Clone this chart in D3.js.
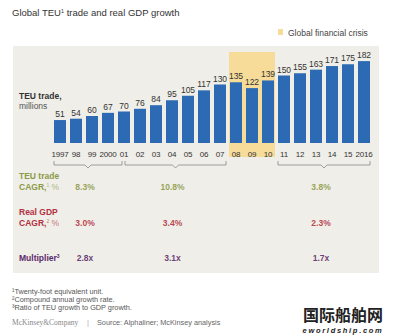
<!DOCTYPE html>
<html>
<head>
<meta charset="utf-8">
<script src="https://cdn.jsdelivr.net/npm/d3@7"></script>
<style>
  body { margin: 0; background: #fff; }
  text { font-family: "Liberation Sans", Arial, sans-serif; }
</style>
</head>
<body>
<div id="chart"></div>
<script>
// data
var years = ["1997", "98", "99", "2000", "01", "02", "03", "04", "05", "06", "07",
  "08", "09", "10", "11", "12", "13", "14", "15", "2016"];
var teu = [51, 54, 60, 67, 70, 76, 84, 95, 105, 117, 130, 135, 122, 139, 150, 155, 163, 171, 175, 182];
var crisisYears = ["08", "10"];
var periods = [["1997", "01"], ["01", "07"], ["11", "2016"]];
var teuCagr = ["8.3%", "10.8%", "3.8%"];
var gdpCagr = ["3.0%", "3.4%", "2.3%"];
var multiplier = ["2.8x", "3.1x", "1.7x"];
var footnotes = ["\u00b9Twenty-foot equivalent unit.", "\u00b2Compound annual growth rate.", "\u00b3Ratio of TEU growth to GDP growth."];

var width = 393, height = 336;
var blue = "#2c6bb3", green = "#8c9a48", red = "#b3303f", purple = "#5b2a6a";

var svg = d3.select("#chart").append("svg").attr("width", width).attr("height", height);

// title + legend
var title = svg.append("text").attr("x", 12).attr("y", 16).attr("font-size", 9.5).attr("fill", "#333");
title.append("tspan").text("Global TEU");
title.append("tspan").attr("font-size", 5.5).attr("dy", -3).text("1");
title.append("tspan").attr("dy", 3).text(" trade and real GDP growth");

svg.append("rect").attr("x", 278).attr("y", 29).attr("width", 5).attr("height", 6).attr("fill", "#f6dc98");
svg.append("text").attr("x", 288).attr("y", 36).attr("font-size", 8.5).attr("fill", "#444").text("Global financial crisis");

// panel
svg.append("rect").attr("x", 13).attr("y", 46).attr("width", 366).attr("height", 227).attr("fill", "#efeee8");

// scales
var x = d3.scaleBand().domain(years).range([52, 372]).paddingInner(0.25).paddingOuter(0.125);
var y = d3.scaleLinear().domain([0, 200]).range([143, 53]);
var bw = x.bandwidth();

// crisis band
svg.append("rect")
  .attr("x", x(crisisYears[0]) - 1)
  .attr("y", 52)
  .attr("width", x(crisisYears[1]) + bw + 1 - (x(crisisYears[0]) - 1))
  .attr("height", 105)
  .attr("fill", "#f6dc98");

// bars
svg.append("g").selectAll("rect").data(teu).enter().append("rect")
  .attr("x", function (d, i) { return x(years[i]); })
  .attr("y", function (d) { return y(d); })
  .attr("width", bw)
  .attr("height", function (d) { return y(0) - y(d); })
  .attr("fill", blue);

svg.append("g").selectAll("text").data(teu).enter().append("text")
  .attr("x", function (d, i) { return x(years[i]) + bw / 2; })
  .attr("y", function (d) { return y(d) - 3; })
  .attr("text-anchor", "middle")
  .attr("font-size", 8.5)
  .attr("fill", "#333")
  .text(function (d) { return d; });

// year axis
var xAxis = svg.append("g").attr("transform", "translate(0," + y(0) + ")")
  .call(d3.axisBottom(x).tickSize(0).tickPadding(8));
xAxis.select(".domain").remove();
xAxis.selectAll("text").attr("font-size", 8).attr("fill", "#333")
  .style("font-family", "'Liberation Sans', Arial, sans-serif")
  .attr("letter-spacing", -0.2);

// y label
svg.append("text").attr("x", 19).attr("y", 99).attr("font-size", 8.5).attr("font-weight", "bold").attr("fill", "#333")
  .text("TEU trade,");
svg.append("text").attr("x", 19).attr("y", 109).attr("font-size", 8.5).attr("fill", "#555").text("millions");

// brackets
var brackets = periods.map(function (p, i) {
  var x0 = i === 1 ? x(p[0]) + bw / 2 + 1 : x(p[0]);
  var x1 = i === 0 ? x(p[1]) + bw / 2 - 2 : x(p[1]) + bw;
  return { x0: x0, x1: x1, c: (x0 + x1) / 2 };
});
var by = 165;
svg.append("g").selectAll("path").data(brackets).enter().append("path")
  .attr("d", function (b) {
    return "M" + b.x0 + "," + (by - 4) + "V" + by + "H" + (b.c - 3) + "L" + b.c + "," + (by + 3) +
      "L" + (b.c + 3) + "," + by + "H" + b.x1 + "V" + (by - 4);
  })
  .attr("fill", "none").attr("stroke", "#888").attr("stroke-width", 0.8);

// rows
function rowLabel(lines, yy, color) {
  var t = svg.append("text").attr("x", 19).attr("y", yy).attr("font-size", 8.5).attr("fill", color).attr("font-weight", "bold");
  t.text(lines[0]);
  if (lines.length > 1) {
    var t2 = svg.append("text").attr("x", 19).attr("y", yy + 11).attr("font-size", 8.5).attr("fill", color);
    t2.append("tspan").attr("font-weight", "bold").text("CAGR,");
    t2.append("tspan").attr("font-size", 5).attr("dy", -3).attr("fill-opacity", 0.7).text(lines[1]);
    t2.append("tspan").attr("dy", 3).attr("fill-opacity", 0.7).text(" %");
  }
}
function rowValues(vals, yy, color) {
  svg.append("g").selectAll("text").data(vals).enter().append("text")
    .attr("x", function (d, i) { return brackets[i].c - 3; })
    .attr("y", yy)
    .attr("text-anchor", "middle")
    .attr("font-size", 8.5)
    .attr("font-weight", "bold")
    .attr("fill", color)
    .attr("fill-opacity", 0.9)
    .text(function (d) { return d; });
}
rowLabel(["TEU trade", "1"], 179, green);
rowValues(teuCagr, 190, green);
rowLabel(["Real GDP", "2"], 215, red);
rowValues(gdpCagr, 226, red);

var m = svg.append("text").attr("x", 19).attr("y", 261).attr("font-size", 8.5).attr("font-weight", "bold").attr("fill", purple);
m.append("tspan").text("Multiplier");
m.append("tspan").attr("font-size", 5).attr("dy", -3).text("3");
rowValues(multiplier, 261, purple);

// footnotes
svg.append("g").selectAll("text").data(footnotes).enter().append("text")
  .attr("x", 12).attr("y", function (d, i) { return 294 + i * 8; })
  .attr("font-size", 7.3).attr("fill", "#555")
  .text(function (d) { return d; });

// source
svg.append("text").attr("x", 12).attr("y", 325).attr("font-size", 7.5).attr("fill", "#888")
  .style("font-family", "'Liberation Serif', serif").text("McKinsey&Company");
svg.append("text").attr("x", 87).attr("y", 325).attr("font-size", 7.5).attr("fill", "#aaa").text("|");
svg.append("text").attr("x", 97).attr("y", 325).attr("font-size", 7.3).attr("fill", "#666").text("Source: Alphaliner; McKinsey analysis");

// watermark
svg.append("text").attr("x", 343).attr("y", 321).attr("text-anchor", "middle").attr("font-size", 16).attr("font-weight", "bold")
  .attr("fill", "#222").style("font-family", "'Noto Sans CJK SC', sans-serif").text("国际船舶网");
svg.append("text").attr("x", 343).attr("y", 333).attr("text-anchor", "middle").attr("font-size", 7.5).attr("font-weight", "bold")
  .attr("font-style", "italic").attr("letter-spacing", 1.7).attr("fill", "#222").text("eworldship.com");
</script>
</body>
</html>
